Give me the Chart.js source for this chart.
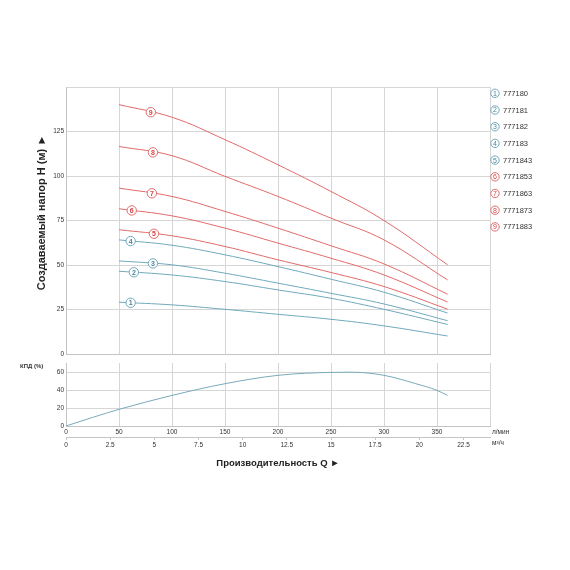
<!DOCTYPE html>
<html>
<head>
<meta charset="utf-8">
<script src="https://cdn.jsdelivr.net/npm/chart.js@4.4.1/dist/chart.umd.min.js"></script>
<style>
  html, body { margin: 0; padding: 0; background: #fff; }
  #head { position: absolute; left: 0; top: 0; }
  #eff { position: absolute; left: 0; top: 355px; }
</style>
</head>
<body>
<canvas id="head" width="570" height="360"></canvas>
<canvas id="eff" width="570" height="215"></canvas>
<script>
// flow, l/min
var flowQ = [50, 100, 150, 200, 250, 300, 360];

// head H (m) per model
var h1 = [29.1, 27.6, 25.1, 22.3, 19.5, 15.8, 10.1];
var h2 = [46.5, 44.4, 40.7, 36.0, 31.3, 25.1, 16.6];
var h3 = [52.3, 50.1, 45.4, 39.8, 34.1, 28.1, 18.7];
var h4 = [64.1, 61.1, 55.7, 49.1, 42.0, 34.7, 23.0];
var h5 = [69.8, 66.4, 60.4, 52.9, 45.8, 37.9, 25.2];
var h6 = [81.6, 77.6, 70.7, 62.3, 53.8, 44.4, 29.2];
var h7 = [93.2, 88.5, 80.1, 70.7, 60.8, 50.6, 33.6];
var h8 = [116.6, 111.4, 99.8, 88.5, 76.3, 64.1, 41.6];
var h9 = [140.1, 133.0, 120.4, 106.3, 91.3, 75.0, 50.1];

var models = ['777180', '777181', '777182', '777183', '7771843', '7771853', '7771863', '7771873', '7771883'];
// where the numbered marker sits on each curve (l/min)
var labelQ = [61, 64, 82, 61, 83, 62, 81, 82, 80];

// efficiency curve
var effQ = [0, 25, 50, 100, 150, 200, 250, 270, 300, 330, 350, 360];
var effVal = [0, 9.5, 18.5, 34, 47, 56.3, 59.6, 59.8, 56.3, 47, 39.6, 34];

var BLUE = '#6fa9bb', BLUE_TXT = '#4a8799';
var RED = '#e26a6a', RED_TXT = '#d64545';
var GRID = '#d6d6d6', FRAME = '#c4c4c4';
var FONT = 'Liberation Sans, Arial, sans-serif';

var heads = [h1, h2, h3, h4, h5, h6, h7, h8, h9];

function pts(xs, ys) {
  return xs.map(function (q, i) { return { x: q, y: ys[i] }; });
}

function interp(xs, ys, q) {
  for (var i = 0; i < xs.length - 1; i++) {
    if (q >= xs[i] && q <= xs[i + 1]) {
      var t = (q - xs[i]) / (xs[i + 1] - xs[i]);
      return ys[i] + t * (ys[i + 1] - ys[i]);
    }
  }
  return ys[ys.length - 1];
}

function badge(ctx, x, y, n, r, line, txt, weight) {
  ctx.save();
  ctx.beginPath();
  ctx.arc(x, y, r, 0, Math.PI * 2);
  ctx.fillStyle = '#fff';
  ctx.fill();
  ctx.lineWidth = 1;
  ctx.strokeStyle = line;
  ctx.stroke();
  ctx.fillStyle = txt;
  ctx.font = weight + ' 7px ' + FONT;
  ctx.textAlign = 'center';
  ctx.textBaseline = 'middle';
  ctx.fillText(n, x, y + 0.5);
  ctx.restore();
}

/* numbered markers on curves, legend on the right, axis title */
var headMarks = {
  id: 'headMarks',
  afterDatasetsDraw: function (chart) {
    var ctx = chart.ctx, sx = chart.scales.x, sy = chart.scales.y;
    heads.forEach(function (h, i) {
      var q = labelQ[i];
      var px = sx.getPixelForValue(q);
      var py = sy.getPixelForValue(interp(flowQ, h, q));
      var red = i >= 4;
      badge(ctx, px, py, String(i + 1), 4.7, red ? RED : BLUE, red ? RED_TXT : BLUE_TXT, 'bold');
    });
    // legend
    models.forEach(function (m, i) {
      var y = 93.3 + i * 16.7;
      var red = i >= 5;
      badge(ctx, 495, y, String(i + 1), 4.2, red ? RED : BLUE, red ? RED_TXT : BLUE_TXT, 'normal');
      ctx.save();
      ctx.fillStyle = '#333';
      ctx.font = '7.5px ' + FONT;
      ctx.textBaseline = 'middle';
      ctx.fillText(m, 503, y + 0.5);
      ctx.restore();
    });
    // y title, sits a little above the middle of the axis
    ctx.save();
    ctx.translate(42, (chart.chartArea.top + chart.chartArea.bottom) / 2 - 8);
    ctx.rotate(-Math.PI / 2);
    ctx.fillStyle = '#222';
    ctx.font = 'bold 11px ' + FONT;
    ctx.textAlign = 'center';
    ctx.textBaseline = 'middle';
    ctx.fillText('Создаваемый напор H (м) ►', 0, 0);
    ctx.restore();
  }
};

var headChart = new Chart(document.getElementById('head'), {
  type: 'line',
  data: {
    datasets: heads.map(function (h, i) {
      return {
        label: models[i],
        data: pts(flowQ, h),
        borderColor: i >= 4 ? RED : BLUE,
        borderWidth: 1,
        pointRadius: 0,
        tension: 0.4
      };
    })
  },
  options: {
    responsive: false,
    animation: false,
    layout: { padding: { left: 0, right: 80, top: 87, bottom: 6 } },
    plugins: { legend: { display: false }, tooltip: { enabled: false } },
    scales: {
      x: {
        type: 'linear', min: 0, max: 400,
        ticks: { display: false, stepSize: 50 },
        grid: { color: GRID, drawTicks: false },
        border: { color: FRAME },
        afterFit: function (s) { s.height = 0; }
      },
      y: {
        min: 0, max: 150,
        ticks: {
          stepSize: 25, padding: 2, color: '#333',
          font: { family: FONT, size: 6.5 },
          callback: function (v) { return v === 150 ? '' : v; }
        },
        grid: { color: GRID, drawTicks: false },
        border: { color: FRAME },
        afterFit: function (s) { s.width = 66; }
      }
    }
  },
  plugins: [headMarks]
});

/* unit labels for the efficiency chart */
var effText = {
  id: 'effText',
  afterDraw: function (chart) {
    var ctx = chart.ctx, ca = chart.chartArea;
    var x1 = chart.scales.x, x2 = chart.scales.x2;
    ctx.save();
    ctx.fillStyle = '#333';
    ctx.textBaseline = 'middle';
    ctx.font = '6.5px ' + FONT;
    ctx.fillText('л/мин', ca.right + 2, x1.top + 6);
    ctx.fillText('м³/ч', ca.right + 2, x2.top + 6);
    ctx.font = 'bold 6px ' + FONT;
    ctx.fillText('КПД (%)', 20, ca.top + 3);
    ctx.restore();
  }
};

var effChart = new Chart(document.getElementById('eff'), {
  type: 'line',
  data: {
    datasets: [{
      label: 'КПД',
      data: pts(effQ, effVal),
      borderColor: '#7aaabb',
      borderWidth: 1,
      pointRadius: 0,
      cubicInterpolationMode: 'monotone'
    }]
  },
  options: {
    responsive: false,
    animation: false,
    layout: { padding: { left: 0, right: 80, top: 8, bottom: 99 } },
    plugins: { legend: { display: false }, tooltip: { enabled: false } },
    scales: {
      x: {
        type: 'linear', min: 0, max: 400, position: 'bottom',
        ticks: {
          stepSize: 50, padding: 2, color: '#333', maxRotation: 0,
          font: { family: FONT, size: 6.5 },
          callback: function (v) { return v === 400 ? '' : v; }
        },
        grid: { color: GRID, drawTicks: false },
        border: { color: FRAME },
        afterFit: function (s) { s.height = 11; }
      },
      x2: {
        type: 'linear', min: 0, max: 24, position: 'bottom',
        ticks: {
          stepSize: 2.5, padding: 1, color: '#333', maxRotation: 0, includeBounds: false,
          font: { family: FONT, size: 6.5 }
        },
        grid: { drawOnChartArea: false, tickLength: 3, color: FRAME },
        border: { color: FRAME },
        title: {
          display: true, text: 'Производительность Q ►', color: '#222',
          font: { family: FONT, size: 9.5, weight: 'bold' },
          padding: { top: 0, bottom: 2 }
        },
        afterFit: function (s) { s.height = 34; }
      },
      y: {
        min: 0, max: 70,
        ticks: {
          stepSize: 10, padding: 2, color: '#333',
          font: { family: FONT, size: 6.5 },
          callback: function (v) { return v % 20 === 0 ? v : ''; }
        },
        grid: { color: GRID, drawTicks: false },
        border: { color: FRAME },
        afterFit: function (s) { s.width = 66; }
      }
    }
  },
  plugins: [effText]
});
</script>
</body>
</html>
